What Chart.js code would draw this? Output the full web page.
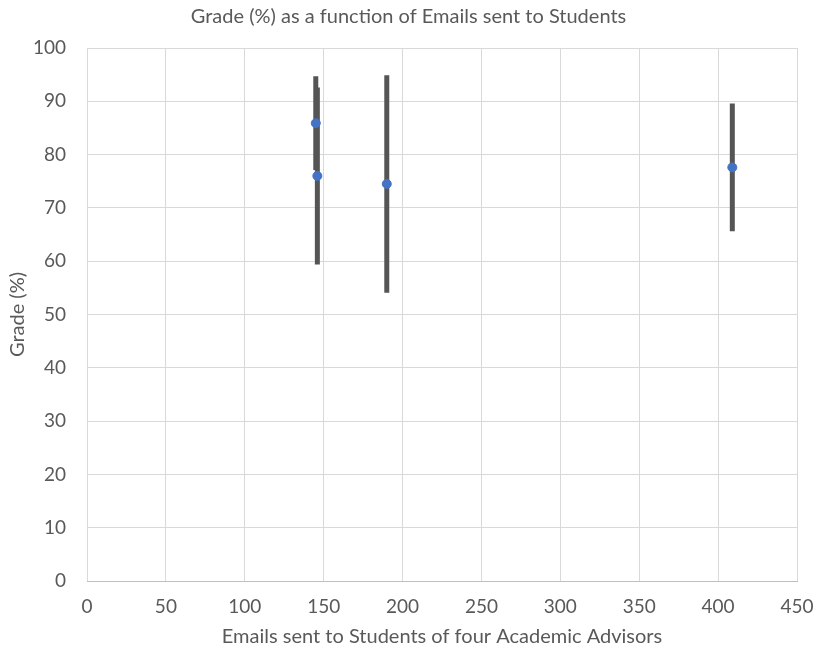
<!DOCTYPE html>
<html>
<head>
<meta charset="utf-8">
<script src="https://cdn.jsdelivr.net/npm/chart.js@4"></script>
<style>
  html, body { margin: 0; padding: 0; background: #fff; }
  canvas { display: block; }
</style>
</head>
<body>
<canvas id="chart" width="817" height="650"></canvas>
<script>
// valores
var emails = [145, 146, 190, 409];
var grades = [85.9, 76.0, 74.5, 77.6];
var errors = [8.8, 16.6, 20.4, 12.0];
var xTicks = [0, 50, 100, 150, 200, 250, 300, 350, 400, 450];
var yTicks = [0, 10, 20, 30, 40, 50, 60, 70, 80, 90, 100];

var points = emails.map(function (e, i) {
    return { x: e, y: grades[i] };
});

// dibuja las barras de error verticales detras de los puntos
var errorBarPlugin = {
    id: 'errorBars',
    beforeDatasetsDraw: function (chart) {
        var ctx = chart.ctx;
        var xs = chart.scales.x, ys = chart.scales.y;
        ctx.save();
        ctx.strokeStyle = '#555555';
        ctx.lineWidth = 5;
        ctx.lineCap = 'butt';
        points.forEach(function (p, i) {
            var px = xs.getPixelForValue(p.x);
            ctx.beginPath();
            ctx.moveTo(px, ys.getPixelForValue(p.y + errors[i]));
            ctx.lineTo(px, ys.getPixelForValue(p.y - errors[i]));
            ctx.stroke();
        });
        ctx.restore();
    }
};

var textColor = '#595959';
var fontFamily = 'Lato, "Open Sans", sans-serif';

new Chart(document.getElementById('chart').getContext('2d'), {
    type: 'scatter',
    data: {
        datasets: [{
            label: 'Grade',
            data: points,
            backgroundColor: '#4472C4',
            borderColor: '#4472C4',
            pointRadius: 4.5,
            pointHoverRadius: 4.5
        }]
    },
    options: {
        responsive: false,
        animation: false,
        layout: { padding: 0 },
        plugins: {
            legend: { display: false },
            tooltip: { enabled: false },
            title: {
                display: true,
                text: 'Grade (%) as a function of Emails sent to Students',
                color: textColor,
                font: { family: fontFamily, size: 20, weight: 'normal' },
                padding: { top: 5, bottom: 19 }
            }
        },
        scales: {
            x: {
                type: 'linear',
                min: 0,
                max: 450,
                afterBuildTicks: function (scale) {
                    scale.ticks = xTicks.map(function (v) { return { value: v }; });
                },
                afterFit: function (scale) {
                    scale.height = 69;
                    scale.paddingLeft = 0;
                    scale.paddingRight = 20;
                },
                ticks: {
                    color: textColor,
                    font: { family: fontFamily, size: 19 },
                    padding: 14,
                    maxRotation: 0
                },
                grid: { color: '#d9d9d9', drawTicks: false },
                border: { color: '#bfbfbf' },
                title: {
                    display: true,
                    text: 'Emails sent to Students of four Academic Advisors',
                    color: textColor,
                    font: { family: fontFamily, size: 20 },
                    padding: { top: 0, bottom: 1 }
                }
            },
            y: {
                type: 'linear',
                min: 0,
                max: 100,
                afterBuildTicks: function (scale) {
                    scale.ticks = yTicks.map(function (v) { return { value: v }; });
                },
                afterFit: function (scale) { scale.width = 87; },
                ticks: {
                    color: textColor,
                    font: { family: fontFamily, size: 19 },
                    padding: 21
                },
                grid: { color: '#d9d9d9', drawTicks: false },
                border: { display: false },
                title: {
                    display: true,
                    text: 'Grade (%)',
                    color: textColor,
                    font: { family: fontFamily, size: 20 },
                    padding: { top: 6, bottom: 4 }
                }
            }
        }
    },
    plugins: [errorBarPlugin]
});
</script>
</body>
</html>
